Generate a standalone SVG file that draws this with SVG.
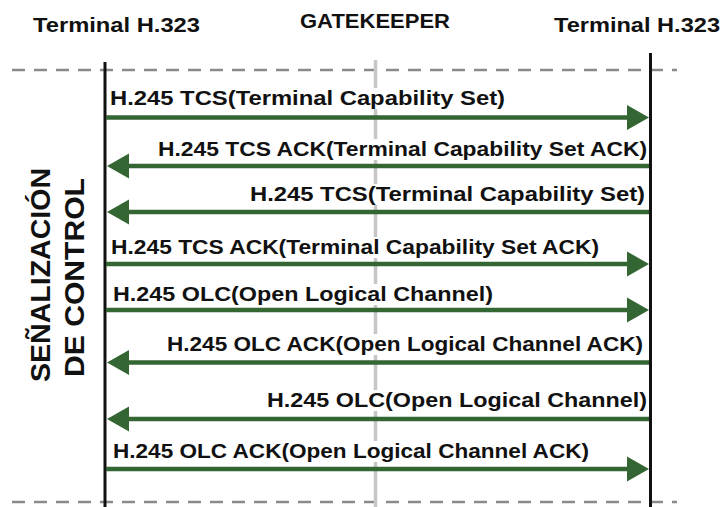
<svg xmlns="http://www.w3.org/2000/svg" width="724" height="507" viewBox="0 0 724 507">
  <defs>
    <style>
      .hdr { font-family: "Liberation Sans", Arial, sans-serif; font-weight: bold; font-size: 21px; fill: #111; }
      .msg { font-family: "Liberation Sans", Arial, sans-serif; font-weight: bold; font-size: 21px; fill: #111; }
      .phase { font-family: "Liberation Sans", Arial, sans-serif; font-weight: bold; font-size: 28px; fill: #111; }
      .life { stroke: #111; stroke-width: 3; fill: none; }
      .gk { stroke: #c6c6c6; stroke-width: 3.5; fill: none; }
      .sep { stroke: #8a8a8a; stroke-width: 2.5; stroke-dasharray: 13 9; fill: none; }
      .arrow { stroke: #336633; stroke-width: 4.5; fill: none; marker-end: url(#head); }
      .mask { fill: #fff; }
    </style>
    <marker id="head" markerUnits="userSpaceOnUse" markerWidth="24" markerHeight="28" refX="0" refY="12.5" orient="auto" overflow="visible">
      <path d="M0,0 L22,12.5 L0,25 Z" fill="#336633"/>
    </marker>
  </defs>

  <rect width="724" height="507" fill="#fff"/>

  <!-- phase separators -->
  <line class="sep" x1="12" y1="70" x2="677" y2="70"/>
  <line class="sep" x1="12" y1="502" x2="677" y2="502"/>

  <!-- gatekeeper lifeline (drawn first so message labels sit over it) -->
  <g id="gatekeeper">
    <text class="hdr" x="300" y="28" textLength="150" lengthAdjust="spacingAndGlyphs">GATEKEEPER</text>
    <line class="gk" x1="375.5" y1="60" x2="375.5" y2="507"/>
  </g>

  <g id="terminal-left">
    <text class="hdr" x="33" y="32" textLength="167" lengthAdjust="spacingAndGlyphs">Terminal H.323</text>
    <line class="life" x1="105" y1="62" x2="105" y2="507"/>
  </g>

  <g id="terminal-right">
    <text class="hdr" x="554" y="32" textLength="166" lengthAdjust="spacingAndGlyphs">Terminal H.323</text>
    <line class="life" x1="650.5" y1="53" x2="650.5" y2="507"/>
  </g>

  <g id="phase-label">
    <text class="phase" transform="translate(50,275) rotate(-90)" text-anchor="middle" textLength="214" lengthAdjust="spacingAndGlyphs">SEÑALIZACIÓN</text>
    <text class="phase" transform="translate(84,277.5) rotate(-90)" text-anchor="middle" textLength="199" lengthAdjust="spacingAndGlyphs">DE CONTROL</text>
  </g>

  <!-- H.245 control messages -->
  <g id="connectors">
    <g id="msg1">
      <rect class="mask" x="109" y="88" width="397" height="21"/>
      <text class="msg" x="110" y="105" textLength="395" lengthAdjust="spacingAndGlyphs">H.245 TCS(Terminal Capability Set)</text>
      <line class="arrow" x1="106" y1="117.5" x2="627" y2="117.5"/>
    </g>
    <g id="msg2">
      <rect class="mask" x="157" y="139" width="491" height="21"/>
      <text class="msg" x="158" y="156" textLength="489" lengthAdjust="spacingAndGlyphs">H.245 TCS ACK(Terminal Capability Set ACK)</text>
      <line class="arrow" x1="649" y1="166" x2="129" y2="166"/>
    </g>
    <g id="msg3">
      <rect class="mask" x="249" y="184" width="397" height="21"/>
      <text class="msg" x="250" y="201" textLength="395" lengthAdjust="spacingAndGlyphs">H.245 TCS(Terminal Capability Set)</text>
      <line class="arrow" x1="649" y1="212" x2="129" y2="212"/>
    </g>
    <g id="msg4">
      <rect class="mask" x="110" y="237" width="490" height="21"/>
      <text class="msg" x="111" y="254" textLength="488" lengthAdjust="spacingAndGlyphs">H.245 TCS ACK(Terminal Capability Set ACK)</text>
      <line class="arrow" x1="106" y1="264" x2="627" y2="264"/>
    </g>
    <g id="msg5">
      <rect class="mask" x="112" y="284" width="382" height="21"/>
      <text class="msg" x="113" y="301" textLength="380" lengthAdjust="spacingAndGlyphs">H.245 OLC(Open Logical Channel)</text>
      <line class="arrow" x1="106" y1="310" x2="627" y2="310"/>
    </g>
    <g id="msg6">
      <rect class="mask" x="166" y="334" width="478" height="21"/>
      <text class="msg" x="167" y="351" textLength="476" lengthAdjust="spacingAndGlyphs">H.245 OLC ACK(Open Logical Channel ACK)</text>
      <line class="arrow" x1="649" y1="362.5" x2="129" y2="362.5"/>
    </g>
    <g id="msg7">
      <rect class="mask" x="266" y="390" width="382" height="21"/>
      <text class="msg" x="267" y="407" textLength="380" lengthAdjust="spacingAndGlyphs">H.245 OLC(Open Logical Channel)</text>
      <line class="arrow" x1="649" y1="419" x2="129" y2="419"/>
    </g>
    <g id="msg8">
      <rect class="mask" x="112" y="441" width="478" height="21"/>
      <text class="msg" x="113" y="458" textLength="476" lengthAdjust="spacingAndGlyphs">H.245 OLC ACK(Open Logical Channel ACK)</text>
      <line class="arrow" x1="106" y1="469" x2="627" y2="469"/>
    </g>
  </g>
</svg>
